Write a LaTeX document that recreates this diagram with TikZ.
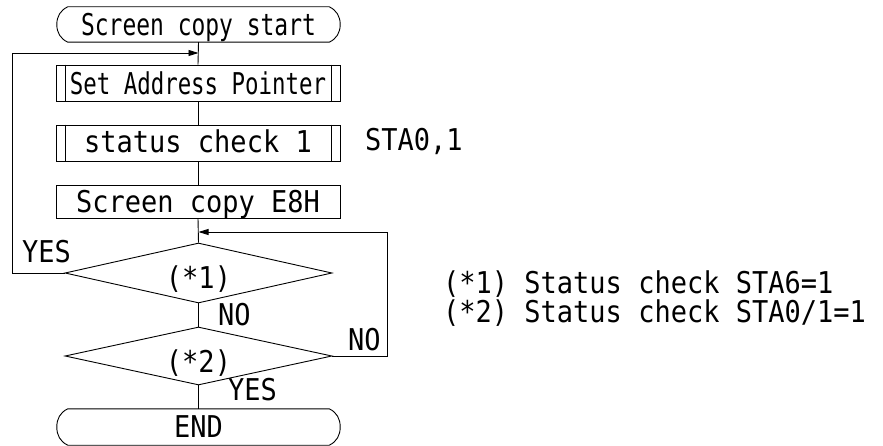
\documentclass[tikz,border=0pt]{standalone}
\usepackage{fontspec}
\usepackage{graphicx}
\usetikzlibrary{shapes.geometric,arrows.meta}
\newfontfamily\monofnt[FakeStretch=0.9]{DejaVu Sans Mono}
\begin{document}
\begin{tikzpicture}[x=1pt,y=1pt,
  every node/.style={font=\monofnt\fontsize{30}{32}\selectfont, inner sep=0pt, text depth=0pt},
  ln/.style={line width=0.9pt, draw=black},
  arr/.style={ln, -{Triangle[length=10pt,width=6pt]}},
  termbox/.style={minimum width=283pt, minimum height=35pt},
  subbox/.style={draw, line width=0.9pt, minimum width=284pt, minimum height=36pt},
  procbox/.style={draw, line width=0.9pt, minimum width=284pt, minimum height=33pt},
  decbox/.style={diamond, draw, line width=0.9pt, aspect=4.45, minimum width=267pt, minimum height=60pt},
  txt/.style={text height=20pt}
]
\newcommand\termshape[1]{%
  \draw[ln] ([xshift=11pt]#1.north west) -- ([xshift=-11pt]#1.north east)
    to[out=-25,in=90] (#1.east) to[out=-90,in=25] ([xshift=-11pt]#1.south east)
    -- ([xshift=11pt]#1.south west)
    to[out=155,in=-90] (#1.west) to[out=90,in=-155] cycle;}
\newcommand\subsides[1]{%
  \draw[ln] ([xshift=10pt]#1.north west) -- ([xshift=10pt]#1.south west);
  \draw[ln] ([xshift=-9pt]#1.north east) -- ([xshift=-9pt]#1.south east);}
\useasboundingbox (0,0) rectangle (883,-446);

% nodes
\node[termbox, text height=23pt] (st) at (198.5,-24.5) {\scalebox{0.85}[1]{Screen copy start}};
\termshape{st}
\node[subbox, text height=24pt] (sap) at (198,-83) {\scalebox{0.83}[1]{Set Address Pointer}};
\subsides{sap}
\node[subbox, text height=20pt] (sc) at (198,-143) {status check 1};
\subsides{sc}
\node[txt, anchor=base west] (sta) at (365,-151) {STA0,1};
\node[procbox, text height=23pt] (e8) at (198,-201.5) {Screen copy E8H};
\node[decbox, text height=30pt] (d1) at (198.5,-273) {(*1)};
\node[decbox, text height=32pt, minimum height=58pt] (d2) at (198.5,-356) {(*2)};
\node[termbox, minimum height=36pt, text height=20pt] (en) at (198.5,-427) {END};
\termshape{en}

% labels
\node[txt, anchor=base west] (y1) at (22,-263) {YES};
\node[txt, anchor=base west] (n1) at (218,-325) {NO};
\node[txt, anchor=base west] (n2) at (348,-350) {NO};
\node[txt, anchor=base west] (y2) at (228,-400) {YES};
\node[txt, anchor=base west] (note1) at (443,-293) {(*1) Status check STA6=1};
\node[txt, anchor=base west] (note2) at (443,-322) {(*2) Status check STA0/1=1};

% junctions
\coordinate (j1) at (198.5,-53);
\coordinate (j2) at (198.5,-232);
\coordinate (lx) at (12,0);
\coordinate (rx) at (387,0);

% connectors
\draw[ln] (st.south) -- (sap.north);
\draw[ln] (sap.south) -- (sc.north);
\draw[ln] (sc.south) -- (e8.north);
\draw[ln] (e8.south) -- (d1.north);
\draw[ln] (d1.south) -- (d2.north);
\draw[ln] (d2.south) -- (en.north);
\draw[arr] (d1.west) -- (d1.west -| lx) |- (j1);
\draw[arr] (d2.east) -- (d2.east -| rx) |- (j2);
\end{tikzpicture}
\end{document}
